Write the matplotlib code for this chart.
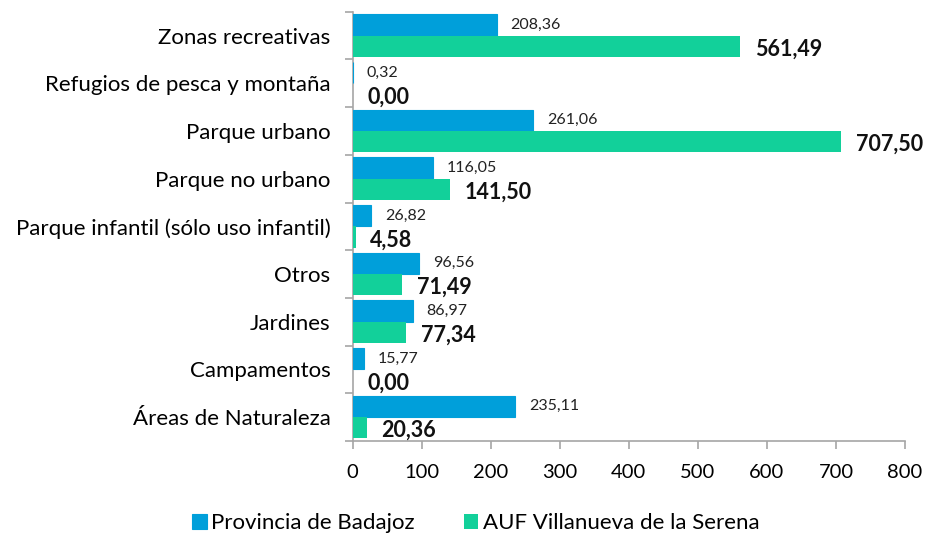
import matplotlib.pyplot as plt
import numpy as np

plt.rcParams['font.family'] = ['Lato', 'DejaVu Sans']

categorias = ["Zonas recreativas", "Refugios de pesca y montaña", "Parque urbano",
              "Parque no urbano", "Parque infantil (sólo uso infantil)", "Otros",
              "Jardines", "Campamentos", "Áreas de Naturaleza"]
badajoz = [208.36, 0.32, 261.06, 116.05, 26.82, 96.56, 86.97, 15.77, 235.11]
villanueva = [561.49, 0.00, 707.50, 141.50, 4.58, 71.49, 77.34, 0.00, 20.36]

azul = "#009FDA"
verde = "#12D09A"
gris = "#A6A6A6"

fig = plt.figure(figsize=(9.33, 5.37), dpi=100)
ax = fig.add_axes([0.378, 0.179, 0.592, 0.799])

n = len(categorias)
y = np.arange(n)[::-1]  # primera categoría arriba
h = 0.45

ax.barh(y + h / 2, badajoz, height=h, color=azul, edgecolor=azul, linewidth=0.8,
        label="Provincia de Badajoz", zorder=3)
ax.barh(y - h / 2, villanueva, height=h, color=verde, linewidth=0,
        label="AUF Villanueva de la Serena", zorder=3)

def fmt(v):
    return f"{v:.2f}".replace(".", ",")

for yi, v in zip(y, badajoz):
    ax.annotate(fmt(v), (v, yi + h / 2), xytext=(10, 0), textcoords="offset points",
                va="center", ha="left", fontsize=11.5, color="#222222")
for yi, v in zip(y, villanueva):
    ax.annotate(fmt(v), (v, yi - h / 2), xytext=(10.5, -2), textcoords="offset points",
                va="center", ha="left", fontsize=15.5, fontweight="bold", color="#111111")

ax.set_xlim(0, 800)
ax.set_ylim(-0.5, n - 0.5)
ax.set_xticks(range(0, 801, 100))
ax.set_yticks(y, categorias)
ax.set_yticks(np.arange(-0.5, n, 1), minor=True)
ax.tick_params(axis="y", which="major", length=0, pad=16, labelsize=16)
ax.tick_params(axis="y", which="minor", length=6, color=gris, width=1.2)
ax.tick_params(axis="x", length=6, color=gris, width=1.2, pad=11, labelsize=14.5)

for s in ["top", "right"]:
    ax.spines[s].set_visible(False)
for s in ["left", "bottom"]:
    ax.spines[s].set_color(gris)
    ax.spines[s].set_linewidth(1.2)

fig.legend(loc="lower center", bbox_to_anchor=(0.510, -0.03), ncol=2, frameon=False,
           fontsize=16, handlelength=0.65, handleheight=0.65, columnspacing=2.2,
           handletextpad=0.2)

fig.savefig("out.png", dpi=100)
